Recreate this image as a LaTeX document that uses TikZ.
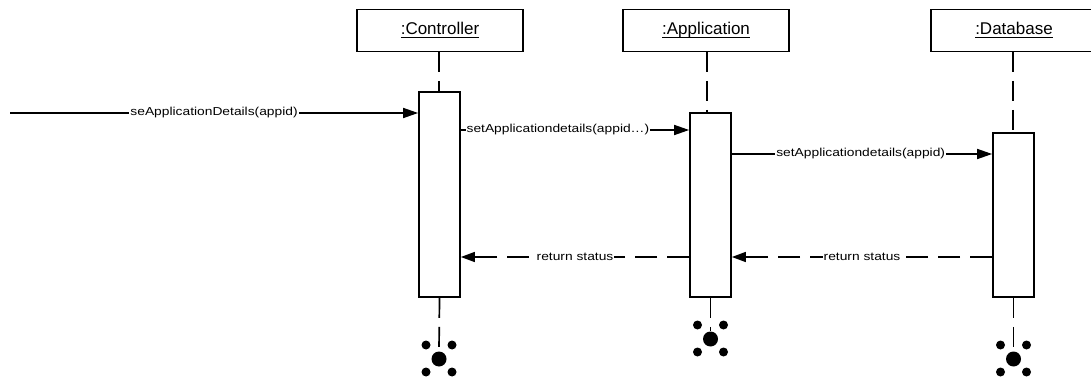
\documentclass[tikz,border=0pt]{standalone}
\usepackage{amsmath}
\usepackage{fontspec}
\setmainfont{Liberation Sans}
\newfontfamily\lbl[FakeStretch=1.2]{Liberation Sans}
\usetikzlibrary{arrows.meta}
\newcommand\objname[1]{\underline{\smash[b]{#1}}}
\begin{document}
\begin{tikzpicture}[x=1pt,y=-1pt,
  objbox/.style={draw,line width=1.8pt,minimum width=166pt,minimum height=42pt,inner sep=0pt,font=\fontsize{17}{20}\selectfont},
  actbox/.style={draw,line width=1.7pt,fill=white,minimum width=41pt,inner sep=0pt},
  lifeline/.style={line width=1.7pt,dash pattern=on 20pt off 9pt},
  msg/.style={line width=1.6pt,-{Triangle[length=15pt,width=10pt]}},
  ret/.style={line width=1.6pt,dash pattern=on 22pt off 10pt,-{Triangle[length=14pt,width=10pt]}},
  lab/.style={fill=white,inner sep=1pt,font=\lbl\fontsize{11.5}{13}\selectfont},
  bigdot/.style={circle,fill=black,inner sep=0pt,minimum size=15pt},
  smalldot/.style={circle,fill=black,inner sep=0pt,minimum size=9pt}
]
\useasboundingbox (0,0) rectangle (1091,379);
% object boxes
\node[objbox] (ctl) at (440,30.5) {\objname{:Controller}};
\node[objbox] (app) at (706,30.5) {\objname{:Application}};
\node[objbox] (db) at (1014,30.5) {\objname{:Database}};
% lifeline top segments
\draw[lifeline] (439,52) -- (439,92);
\draw[lifeline] (707,52) -- (707,113);
\draw[lifeline] (1013,52) -- (1013,133);
% activation boxes
\node[actbox,minimum height=205pt] (actc) at (439.5,194.5) {};
\node[actbox,minimum height=184pt] (acta) at (710.5,205) {};
\node[actbox,minimum height=164pt] (actd) at (1013.5,215) {};
% destruction marks
\node[bigdot] (xc) at (439,359) {};
\node[bigdot] (xa) at (710.5,339) {};
\node[bigdot] (xd) at (1013.5,359) {};
\foreach \n/\cx/\cy in {c/439/359,a/710.5/339,d/1013.5/359}{
  \node[smalldot] (\n1) at (\cx-13,\cy-14) {};
  \node[smalldot] (\n2) at (\cx+13,\cy-14) {};
  \node[smalldot] (\n3) at (\cx-13,\cy+13) {};
  \node[smalldot] (\n4) at (\cx+13,\cy+13) {};
}
% lifeline bottom segments
\draw[lifeline] (actc.south) -- (xc.north);
\draw[lifeline] (acta.south) -- (xa.north);
\draw[lifeline] (actd.south) -- (xd.north);
% messages
\coordinate (start) at (10,113);
\draw[msg] (start) -- (actc.west |- start) node[lab,pos=0.5] {seApplicationDetails(appid)};
\draw[msg] (actc.east |- 0,130) -- (acta.west |- 0,130) node[lab,pos=0.425] {setApplicationdetails(appid…)};
\draw[msg] (acta.east |- 0,154) -- (actd.west |- 0,154) node[lab,pos=0.495] {setApplicationdetails(appid)};
\draw[ret] (acta.west |- 0,257) -- (actc.east |- 0,257) node[lab,pos=0.5] {return\,\,status};
\draw[ret] (actd.west |- 0,257) -- (acta.east |- 0,257) node[lab,pos=0.5] {return\,\,status};
\end{tikzpicture}
\end{document}
